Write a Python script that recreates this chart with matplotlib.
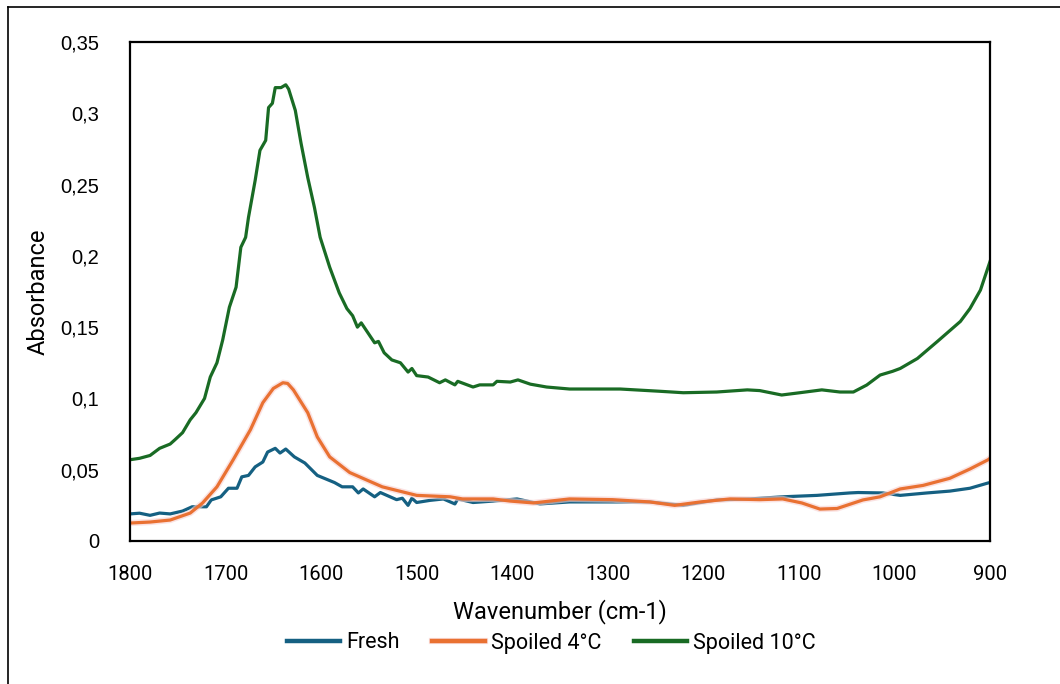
import matplotlib
matplotlib.use("Agg")
import matplotlib.pyplot as plt
import matplotlib.patheffects as pe
from matplotlib.lines import Line2D

# ---- data ----
green_wn = [1800, 1790, 1779, 1769, 1758, 1753, 1745, 1737, 1731, 1722, 1716, 1709, 1703, 1696,
            1689, 1684, 1679, 1676, 1669, 1664, 1658, 1655, 1651, 1648, 1642, 1637, 1634, 1627,
            1621, 1614, 1607, 1601, 1591, 1581, 1573, 1567, 1562, 1558, 1550, 1544, 1540, 1534,
            1526, 1517, 1509, 1505, 1500, 1488, 1476, 1470, 1460, 1457, 1441, 1434, 1420, 1416,
            1402, 1394, 1381, 1364, 1340, 1311, 1287, 1245, 1221, 1186, 1154, 1141, 1118, 1099,
            1076, 1057, 1043, 1029, 1015, 1002, 994, 976, 955, 931, 921, 910, 900]
green_val = [0.057, 0.058, 0.060, 0.065, 0.068, 0.071, 0.076, 0.085, 0.090, 0.100, 0.115, 0.125,
             0.141, 0.164, 0.178, 0.206, 0.213, 0.227, 0.253, 0.274, 0.281, 0.304, 0.307, 0.318,
             0.318, 0.320, 0.317, 0.302, 0.279, 0.255, 0.234, 0.213, 0.192, 0.174, 0.163, 0.158,
             0.150, 0.153, 0.145, 0.139, 0.140, 0.132, 0.127, 0.125, 0.1185, 0.121, 0.116, 0.115,
             0.111, 0.113, 0.1095, 0.112, 0.108, 0.1095, 0.1095, 0.112, 0.1115, 0.113, 0.110,
             0.108, 0.1066, 0.1066, 0.1066, 0.105, 0.104, 0.1045, 0.106, 0.1055, 0.1024, 0.104,
             0.106, 0.1045, 0.1045, 0.1094, 0.1164, 0.119, 0.121, 0.128, 0.140, 0.154, 0.163,
             0.176, 0.196]

orange_wn = [1800, 1779, 1758, 1737, 1724, 1709, 1692, 1674, 1661, 1650, 1640, 1635, 1629, 1614,
             1604, 1591, 1570, 1536, 1500, 1465, 1452, 1420, 1402, 1378, 1340, 1295, 1256, 1230,
             1203, 1172, 1141, 1117, 1097, 1078, 1060, 1033, 1015, 994, 970, 942, 921, 902, 900]
orange_val = [0.0126, 0.0133, 0.0147, 0.0196, 0.0267, 0.038, 0.057, 0.078, 0.097, 0.107, 0.111,
              0.1105, 0.106, 0.090, 0.073, 0.059, 0.048, 0.038, 0.032, 0.031, 0.0295, 0.0295,
              0.028, 0.0267, 0.0295, 0.029, 0.0274, 0.025, 0.0274, 0.0295, 0.029, 0.0295, 0.0267,
              0.0224, 0.0228, 0.0288, 0.031, 0.0365, 0.039, 0.044, 0.0505, 0.057, 0.058]

blue_wn = [1800, 1790, 1779, 1769, 1758, 1745, 1735, 1720, 1715, 1705, 1697, 1688, 1683, 1676,
           1669, 1661, 1656, 1648, 1643, 1637, 1628, 1617, 1604, 1586, 1578, 1567, 1561, 1556,
           1544, 1538, 1521, 1515, 1509, 1505, 1500, 1486, 1472, 1460, 1457, 1441, 1420, 1395,
           1371, 1340, 1256, 1221, 1186, 1151, 1117, 1081, 1047, 1038, 1012, 994, 966, 942, 921,
           902, 900]
blue_val = [0.019, 0.0195, 0.018, 0.0196, 0.019, 0.021, 0.024, 0.024, 0.0288, 0.031, 0.037, 0.037,
            0.045, 0.046, 0.052, 0.0554, 0.0624, 0.065, 0.0617, 0.0645, 0.059, 0.0547, 0.046,
            0.041, 0.038, 0.038, 0.0337, 0.0365, 0.031, 0.034, 0.029, 0.030, 0.025, 0.030, 0.027,
            0.0285, 0.0295, 0.026, 0.0295, 0.027, 0.028, 0.0295, 0.026, 0.0274, 0.0274, 0.025,
            0.0288, 0.0295, 0.031, 0.032, 0.0337, 0.034, 0.0337, 0.032, 0.0337, 0.035, 0.037,
            0.0407, 0.041]

x_ticks = [1800, 1700, 1600, 1500, 1400, 1300, 1200, 1100, 1000, 900]
y_ticks = [0, 0.05, 0.1, 0.15, 0.2, 0.25, 0.3, 0.35]
y_tick_labels = ["0", "0,05", "0,1", "0,15", "0,2", "0,25", "0,3", "0,35"]
series_names = ["Fresh", "Spoiled 4°C", "Spoiled 10°C"]

c_blue = "#156082"
c_orange = "#E97132"
c_green = "#196B24"

fig = plt.figure(figsize=(10.6, 6.84), dpi=100)
ax = fig.add_axes([130 / 1060, 1 - 541 / 684, 860 / 1060, 499 / 684])

lw = 2.3
ax.plot(blue_wn, blue_val, color=c_blue, lw=lw, label=series_names[0], solid_joinstyle="round")
ax.plot(orange_wn, orange_val, color=c_orange, lw=lw, label=series_names[1], solid_joinstyle="round",
        path_effects=[pe.Stroke(linewidth=4.5, foreground="#f8d0d0", alpha=0.6), pe.Normal()])
ax.plot(green_wn, green_val, color=c_green, lw=lw, label=series_names[2], solid_joinstyle="round")

ax.set_xlim(1800, 900)
ax.set_ylim(0, 0.35)
ax.set_xticks(x_ticks)
ax.set_xticklabels([str(t) for t in x_ticks], fontfamily="Roboto", fontsize=14.5)
ax.set_yticks(y_ticks)
ax.set_yticklabels(y_tick_labels, fontfamily="Liberation Sans", fontsize=14.5)
ax.tick_params(axis="x", length=0, pad=17, colors="black")
ax.tick_params(axis="y", length=0, pad=22, colors="black")
for s in ax.spines.values():
    s.set_linewidth(1.6)
    s.set_color("black")

ax.set_xlabel("Wavenumber (cm-1)", fontfamily="Roboto", fontsize=17, labelpad=11)
ax.set_ylabel("Absorbance", fontfamily="Roboto", fontsize=17, labelpad=8)

leg = fig.legend(loc="center", bbox_to_anchor=(551 / 1060, 1 - 643 / 684), ncol=3, frameon=False,
                 prop={"family": "Roboto", "size": 15.5}, handlelength=2.5, handletextpad=0.25,
                 columnspacing=1.5)
for h in leg.get_lines():
    h.set_linewidth(3.2)

# outer border (top and left visible)
fig.add_artist(Line2D([8 / 1060, 1.0], [1 - 7 / 684, 1 - 7 / 684], color="black", lw=1.2,
                      transform=fig.transFigure))
fig.add_artist(Line2D([8 / 1060, 8 / 1060], [0, 1 - 7 / 684], color="black", lw=1.2,
                      transform=fig.transFigure))

fig.savefig("out.png", dpi=100)
